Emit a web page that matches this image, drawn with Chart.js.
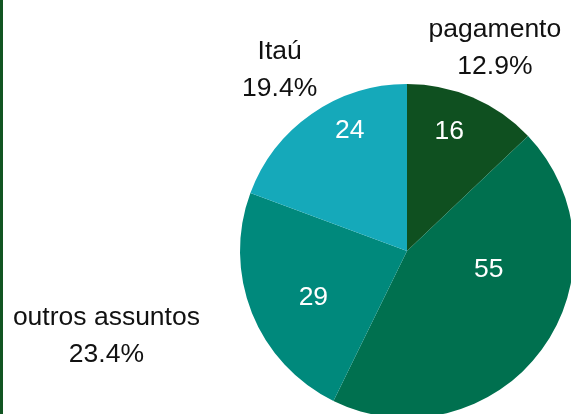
<!DOCTYPE html>
<html>
<head>
<meta charset="utf-8">
<script src="https://cdn.jsdelivr.net/npm/chart.js@4"></script>
<style>
  html, body { margin: 0; padding: 0; background: #fff; }
  #wrap { position: relative; width: 571px; height: 414px; overflow: hidden; }
  #wrap canvas { position: absolute; left: 0; top: 0; }
  #edge { position: absolute; left: 0; top: 0; width: 3px; height: 414px; background: #115522; z-index: 2; }
</style>
</head>
<body>
<div id="wrap">
  <div id="edge"></div>
  <canvas id="pie" width="700" height="500"></canvas>
</div>
<script>
// dados do gráfico
const categorias = ['pagamento', 'outros', 'outros assuntos', 'Itaú'];
const valores = [16, 55, 29, 24];
const cores = ['#0f5020', '#00704f', '#00897c', '#15a9ba'];
// ajuste dos rótulos internos (desvio de ângulo em graus, fração do raio)
const ajusteValor = [[-4, 0.77], [-24.6, 0.5], [-3.5, 0.62], [9.8, 0.81]];

const fonte = '26.5px "Liberation Sans", Arial, sans-serif';

const rotulos = {
    id: 'rotulos',
    afterDatasetsDraw(chart) {
        const ctx = chart.ctx;
        const meta = chart.getDatasetMeta(0);
        const total = valores.reduce((a, b) => a + b, 0);
        ctx.save();
        ctx.font = fonte;
        ctx.textBaseline = 'middle';
        meta.data.forEach((arc, i) => {
            const mid = (arc.startAngle + arc.endAngle) / 2;
            const r = arc.outerRadius;

            // valor dentro da fatia
            const a = mid + ajusteValor[i][0] * Math.PI / 180;
            const rr = r * ajusteValor[i][1];
            ctx.fillStyle = '#ffffff';
            ctx.textAlign = 'center';
            ctx.fillText(String(valores[i]), arc.x + Math.cos(a) * rr, arc.y + Math.sin(a) * rr + 2);

            // nome + percentual fora da fatia
            const ax = arc.x + Math.cos(mid) * r * 1.335;
            const ay = arc.y + Math.sin(mid) * r * 1.335;
            const linhas = [categorias[i], (valores[i] / total * 100).toFixed(1) + '%'];
            const larg = Math.max(...linhas.map(t => ctx.measureText(t).width));
            let cx = ax;
            const c = Math.cos(mid);
            if (c < -0.7) cx = ax - larg / 2;
            else if (c > 0.7) cx = ax + larg / 2;
            ctx.fillStyle = '#111111';
            ctx.fillText(linhas[0], cx, ay - 16);
            ctx.fillText(linhas[1], cx, ay + 21);
        });
        ctx.restore();
    }
};

new Chart(document.getElementById('pie').getContext('2d'), {
    type: 'pie',
    data: {
        labels: categorias,
        datasets: [{
            data: valores,
            backgroundColor: cores,
            borderWidth: 0
        }]
    },
    options: {
        responsive: false,
        animation: false,
        layout: { padding: { left: 240, right: 126, top: 84, bottom: 82 } },
        plugins: {
            legend: { display: false },
            tooltip: { enabled: false }
        }
    },
    plugins: [rotulos]
});
</script>
</body>
</html>
